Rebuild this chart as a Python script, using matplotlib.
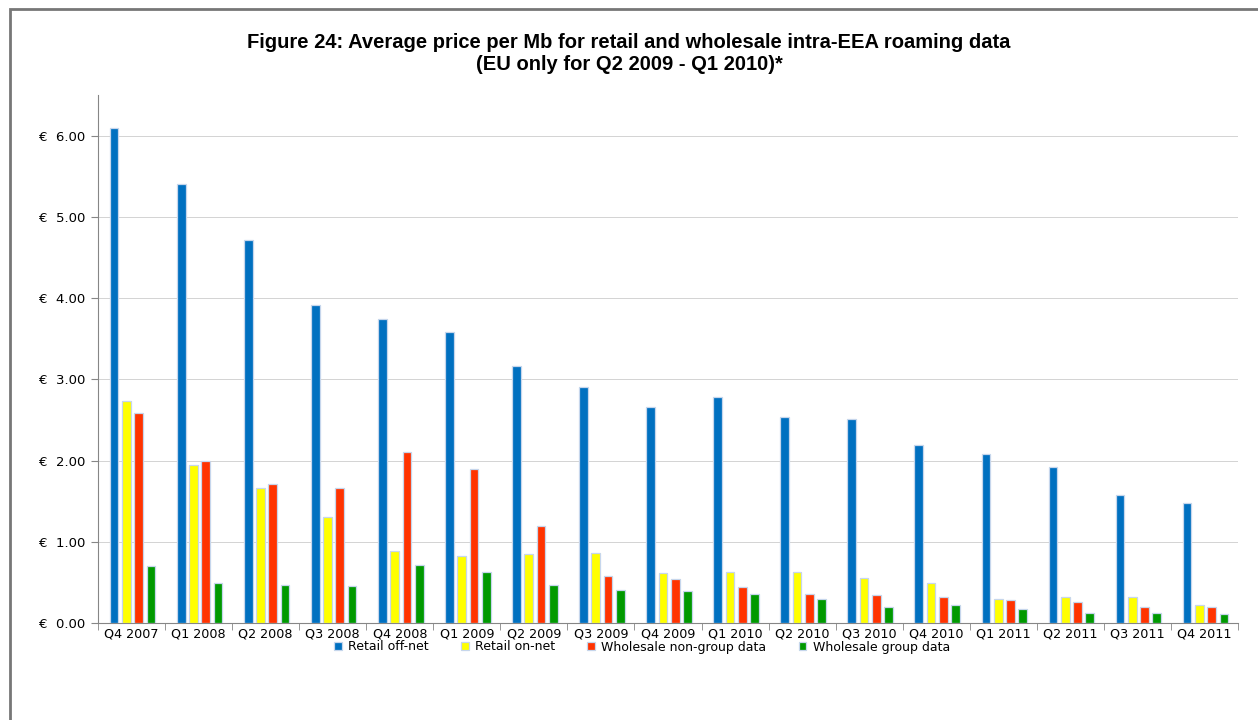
import numpy as np
import matplotlib.pyplot as plt
from matplotlib.patches import Rectangle
from matplotlib.ticker import FuncFormatter

quarters = ['Q4 2007', 'Q1 2008', 'Q2 2008', 'Q3 2008', 'Q4 2008', 'Q1 2009',
            'Q2 2009', 'Q3 2009', 'Q4 2009', 'Q1 2010', 'Q2 2010', 'Q3 2010',
            'Q4 2010', 'Q1 2011', 'Q2 2011', 'Q3 2011', 'Q4 2011']

retail_off_net = [6.09, 5.40, 4.71, 3.91, 3.74, 3.58, 3.16, 2.91, 2.66, 2.78,
                  2.54, 2.51, 2.19, 2.08, 1.92, 1.57, 1.48]
retail_on_net = [2.73, 1.94, 1.66, 1.31, 0.89, 0.83, 0.85, 0.86, 0.62, 0.63,
                 0.63, 0.56, 0.49, 0.30, 0.32, 0.32, 0.22]
wholesale_non_group = [2.58, 2.00, 1.71, 1.66, 2.11, 1.89, 1.20, 0.58, 0.54, 0.44,
                       0.36, 0.34, 0.32, 0.28, 0.26, 0.20, 0.20]
wholesale_group = [0.70, 0.49, 0.47, 0.45, 0.71, 0.63, 0.47, 0.41, 0.40, 0.36,
                   0.30, 0.20, 0.22, 0.17, 0.12, 0.12, 0.11]

series = [
    ('Retail off-net', retail_off_net, '#0070c0'),
    ('Retail on-net', retail_on_net, '#ffff00'),
    ('Wholesale non-group data', wholesale_non_group, '#ff3300'),
    ('Wholesale group data', wholesale_group, '#009900'),
]

fig = plt.figure(figsize=(12.58, 7.2), dpi=100)
fig.patches.append(Rectangle((10 / 1258, -0.1), 1.2, 1 - 9 / 720 + 0.1,
                             transform=fig.transFigure, fill=False,
                             edgecolor='#777777', linewidth=2))

ax = fig.add_axes([98 / 1258, 1 - 623 / 720, (1238 - 98) / 1258, (623 - 95) / 720])

x = np.arange(len(quarters))
pitch = 0.183
width = 0.13
for i, (name, vals, col) in enumerate(series):
    ax.bar(x + (i - 1.5) * pitch + 0.015, vals, width, color=col, label=name,
           edgecolor='#c6d6ec', linewidth=0.9, zorder=3)

ax.set_xlim(-0.5, len(quarters) - 0.5)
ax.set_ylim(0, 6.5)
ax.set_yticks(np.arange(0, 7, 1))
ax.yaxis.set_major_formatter(FuncFormatter(lambda v, p: '€  %.2f' % v))
ax.set_xticks(x)
ax.set_xticklabels(quarters)
ax.set_xticks(np.arange(-0.5, len(quarters), 1), minor=True)
ax.tick_params(axis='x', which='major', length=0, pad=3, labelsize=9.2)
ax.tick_params(axis='x', which='minor', length=5, color='#868686')
ax.tick_params(axis='y', length=5, color='#868686', labelsize=9.5, pad=4)
ax.grid(axis='y', color='#cccccc', linewidth=0.6, zorder=0)

for s in ['top', 'right']:
    ax.spines[s].set_visible(False)
for s in ['left', 'bottom']:
    ax.spines[s].set_color('#868686')

fig.text(0.5, 1 - 42 / 720, 'Figure 24: Average price per Mb for retail and wholesale intra-EEA roaming data',
         ha='center', va='center', fontsize=14.5, fontweight='bold', family='Liberation Sans')
fig.text(0.5, 1 - 64 / 720, '(EU only for Q2 2009 - Q1 2010)*',
         ha='center', va='center', fontsize=14.5, fontweight='bold', family='Liberation Sans')

fig.legend(loc='center', bbox_to_anchor=(642 / 1258, 1 - 647 / 720), ncol=4,
           frameon=False, fontsize=9, handlelength=0.6, handleheight=0.6,
           handletextpad=0.5, columnspacing=2.6)

fig.savefig('out.png', dpi=100)
